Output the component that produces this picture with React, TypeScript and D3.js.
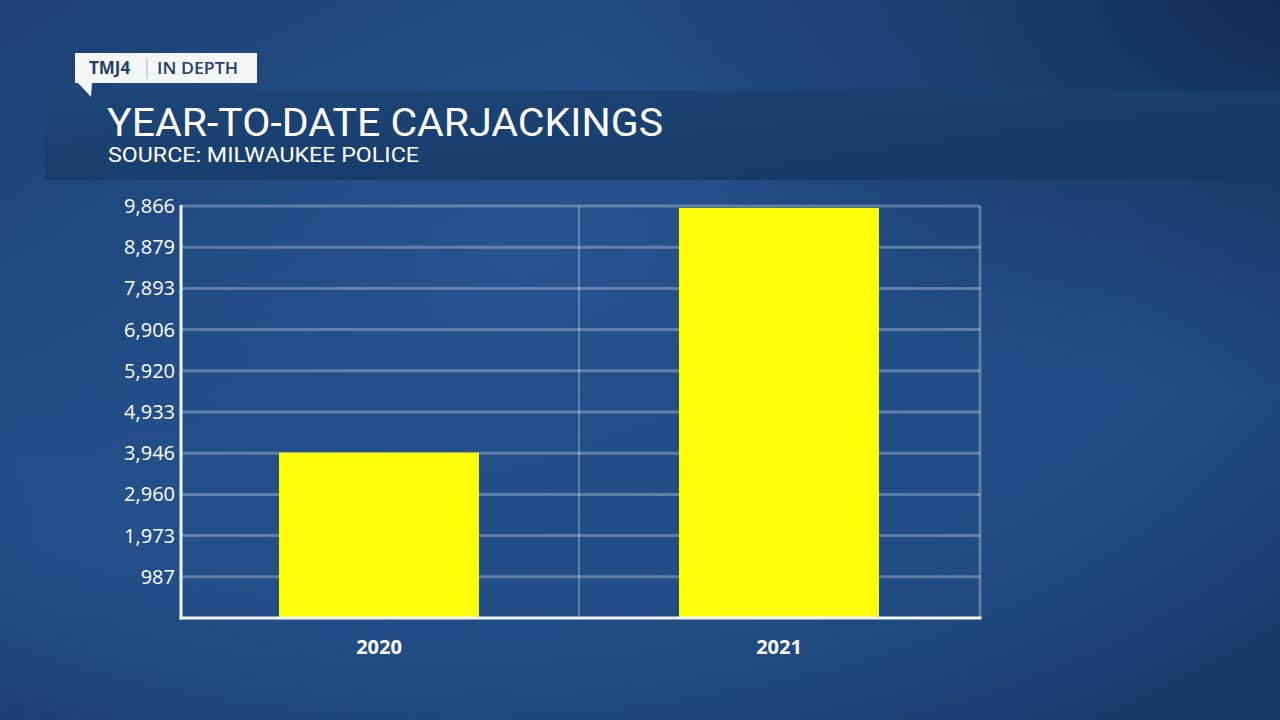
import React from "react";
import * as d3 from "d3";

const categories = ["2020", "2021"];
const values = [3960, 9820];
const axisMax = 9866;
const tickValues = [987, 1973, 2960, 3946, 4933, 5920, 6906, 7893, 8879, 9866];
const title = "YEAR-TO-DATE CARJACKINGS";
const subtitle = "SOURCE: MILWAUKEE POLICE";

export default function App() {
  const W = 1280, H = 720;
  const left = 179, right = 979, top = 206, bottom = 618;
  const x = d3.scaleBand<string>().domain(categories).range([left, right]).paddingInner(0).paddingOuter(0);
  const y = d3.scaleLinear().domain([0, axisMax]).range([bottom, top]);
  const barW = x.bandwidth() / 2;
  const fmt = d3.format(",");
  const font = "'Open Sans', 'Noto Sans', sans-serif";
  const titleFont = "Roboto, 'Open Sans', sans-serif";
  const midX = x("2020")! + x.bandwidth();
  return (
    <svg width={W} height={H} style={{ position: "fixed", left: 0, top: 0, display: "block" }} fontFamily={font}>
      <defs>
        <linearGradient id="bg" x1="0" y1="0" x2="1" y2="1">
          <stop offset="0" stopColor="#1c4277" />
          <stop offset="0.4" stopColor="#24508a" />
          <stop offset="1" stopColor="#1f4a82" />
        </linearGradient>
        <radialGradient id="vig" cx="0.4" cy="0.35" r="0.8">
          <stop offset="0" stopColor="#2a5a96" stopOpacity="0.5" />
          <stop offset="0.6" stopColor="#1a3f73" stopOpacity="0" />
          <stop offset="1" stopColor="#0f2a52" stopOpacity="0.5" />
        </radialGradient>
        <radialGradient id="topright" cx="1" cy="0" r="0.55">
          <stop offset="0" stopColor="#0d2548" stopOpacity="0.75" />
          <stop offset="1" stopColor="#0d2548" stopOpacity="0" />
        </radialGradient>
        <linearGradient id="band" x1="0" y1="0" x2="1" y2="1">
          <stop offset="0" stopColor="#1d4677" />
          <stop offset="0.6" stopColor="#173c6a" />
          <stop offset="1" stopColor="#163a66" />
        </linearGradient>
      </defs>
      <rect x={0} y={0} width={W} height={H} fill="url(#bg)" />
      <rect x={0} y={0} width={W} height={H} fill="url(#vig)" />
      <rect x={0} y={0} width={W} height={H} fill="url(#topright)" />
      {/* title band */}
      <rect x={45} y={90} width={W - 45} height={90} fill="url(#band)" opacity={0.95} />
      {/* logo */}
      <path d="M75,53 H257 V83 H92 L91,97 L78,83 H75 Z" fill="#f4f6f8" />
      <text x={89} y={74} fontSize={17} fontWeight={700} fill="#26406a">TMJ4</text>
      <line x1={147} y1={58} x2={147} y2={79} stroke="#c4ccd6" strokeWidth={1.5} />
      <text x={157} y={74} fontSize={17} fontWeight={600} fill="#26406a" textLength={81} lengthAdjust="spacingAndGlyphs">IN DEPTH</text>
      <text x={107} y={136} fontSize={38} fontFamily={titleFont} fill="#ffffff" textLength={556} lengthAdjust="spacingAndGlyphs">{title}</text>
      <text x={108} y={162} fontSize={20} fontFamily={titleFont} fill="#ffffff" textLength={311} lengthAdjust="spacingAndGlyphs">{subtitle}</text>
      {/* grid */}
      {tickValues.map((t) => (
        <line key={t} x1={left + 2} x2={right + 1} y1={y(t)} y2={y(t)} stroke="#ffffff" strokeOpacity={0.28} strokeWidth={3} />
      ))}
      <line x1={midX} x2={midX} y1={top} y2={bottom} stroke="#ffffff" strokeOpacity={0.28} strokeWidth={2} />
      <line x1={right + 1} x2={right + 1} y1={top} y2={bottom} stroke="#ffffff" strokeOpacity={0.28} strokeWidth={3} />
      {/* bars */}
      {categories.map((c, i) => (
        <rect key={c} x={x(c)! + (x.bandwidth() - barW) / 2} y={y(values[i])} width={barW} height={bottom - y(values[i])} fill="#ffff0a" />
      ))}
      {/* axes */}
      <line x1={left + 2} x2={left + 2} y1={top - 1} y2={bottom + 1.5} stroke="#f2f6fa" strokeWidth={3} />
      <line x1={left + 0.5} x2={right + 2.5} y1={bottom} y2={bottom} stroke="#f2f6fa" strokeWidth={3} />
      {tickValues.map((t) => (
        <text key={t} x={175} y={y(t)} dy="0.35em" textAnchor="end" fontSize={20} fill="#ffffff">{fmt(t)}</text>
      ))}
      {categories.map((c) => (
        <text key={c} x={x(c)! + x.bandwidth() / 2} y={654} textAnchor="middle" fontSize={20} fontWeight={700} fill="#ffffff">{c}</text>
      ))}
    </svg>
  );
}
